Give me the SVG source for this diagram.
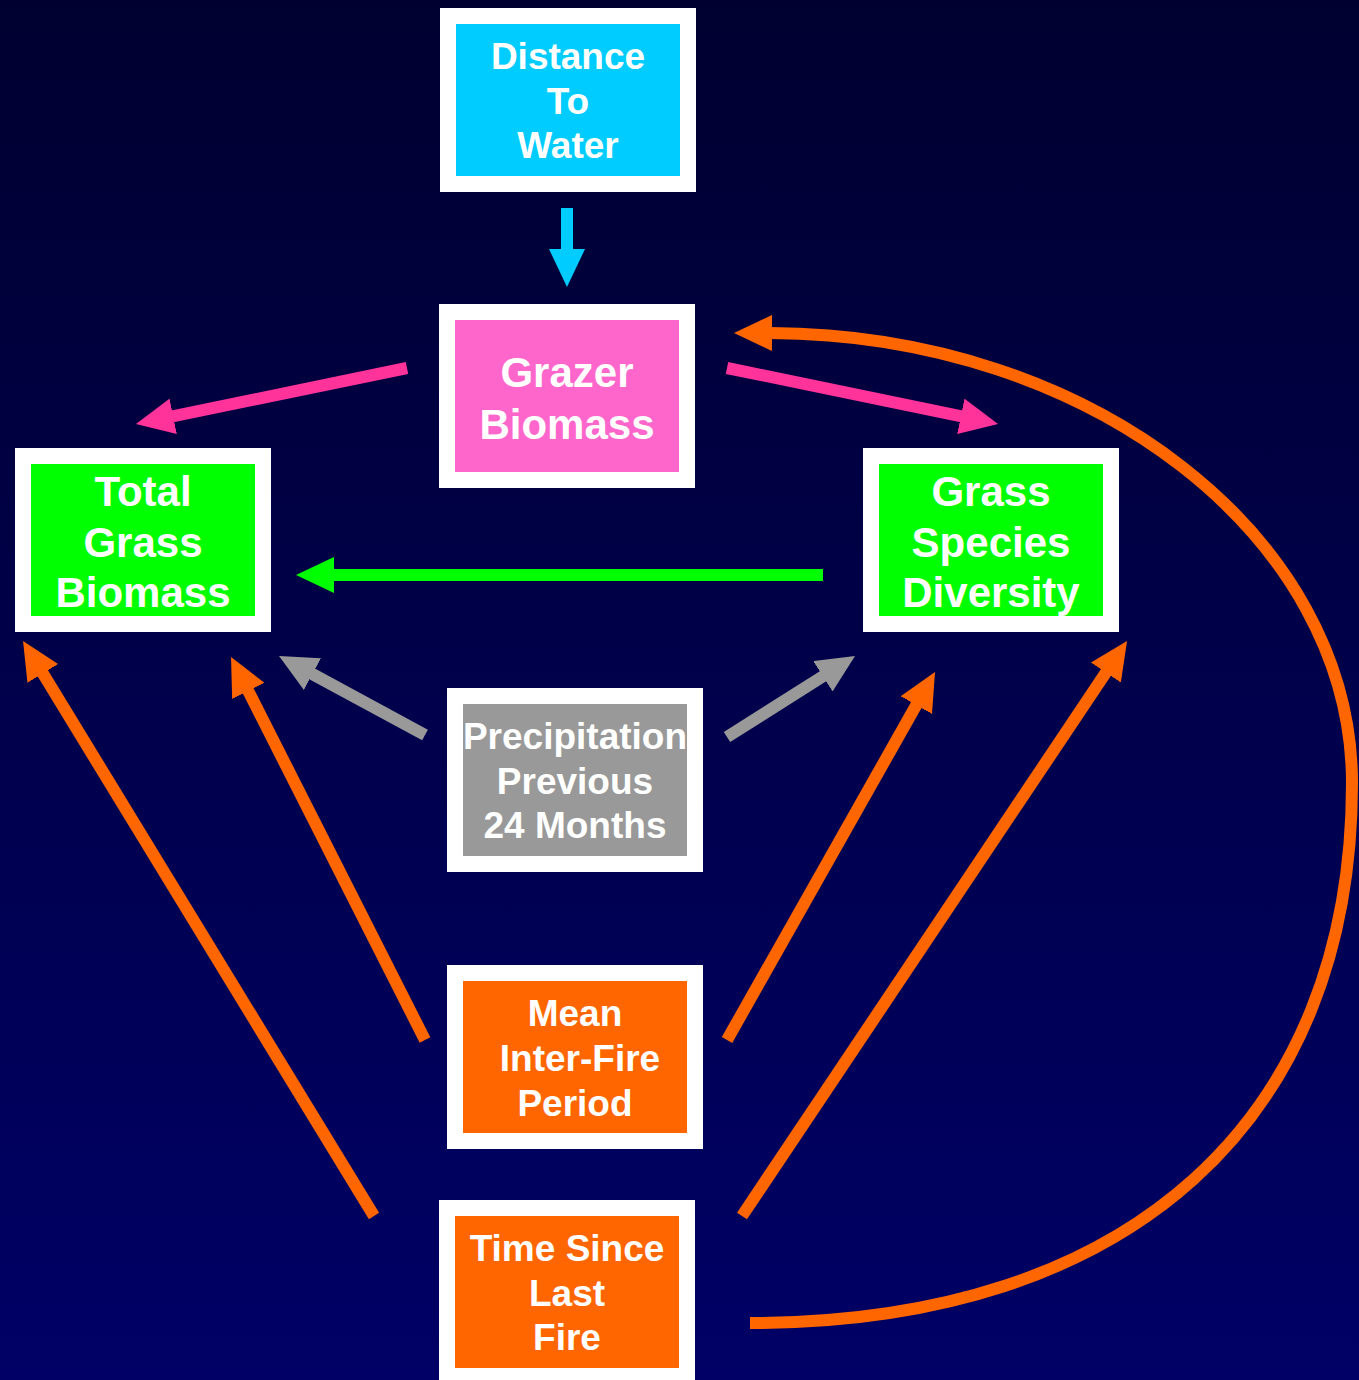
<svg xmlns="http://www.w3.org/2000/svg" width="1359" height="1380" viewBox="0 0 1359 1380">
<defs>
<linearGradient id="bg" x1="0" y1="0" x2="0" y2="1">
<stop offset="0" stop-color="#000030"/>
<stop offset="1" stop-color="#000066"/>
</linearGradient>
<marker id="hBlue" markerUnits="userSpaceOnUse" markerWidth="38" markerHeight="36" viewBox="0 0 38 36" refX="2" refY="18" orient="auto"><path d="M0,0 L38,18 L0,36 Z" fill="#00CCFF"/></marker>
<marker id="hPink" markerUnits="userSpaceOnUse" markerWidth="38" markerHeight="36" viewBox="0 0 38 36" refX="2" refY="18" orient="auto"><path d="M0,0 L38,18 L0,36 Z" fill="#FF3399"/></marker>
<marker id="hGreen" markerUnits="userSpaceOnUse" markerWidth="38" markerHeight="36" viewBox="0 0 38 36" refX="2" refY="18" orient="auto"><path d="M0,0 L38,18 L0,36 Z" fill="#00FF00"/></marker>
<marker id="hGray" markerUnits="userSpaceOnUse" markerWidth="38" markerHeight="36" viewBox="0 0 38 36" refX="2" refY="18" orient="auto"><path d="M0,0 L38,18 L0,36 Z" fill="#999999"/></marker>
<marker id="hOrange" markerUnits="userSpaceOnUse" markerWidth="38" markerHeight="36" viewBox="0 0 38 36" refX="2" refY="18" orient="auto"><path d="M0,0 L38,18 L0,36 Z" fill="#FF6600"/></marker>
</defs>
<style>
.frame{fill:#FFFFFF}
.t{font-family:"Liberation Sans",Arial,sans-serif;font-weight:bold;fill:#FFFFFF;text-anchor:middle}
.s37{font-size:37px}
.s42{font-size:42px}
.c{fill:none;stroke-width:12;stroke-linecap:butt}
</style>
<rect x="0" y="0" width="1359" height="1380" fill="url(#bg)"/>

<g id="connectors">
<line class="c" x1="567" y1="208" x2="567" y2="251" stroke="#00CCFF" marker-end="url(#hBlue)"/>
<line class="c" x1="407" y1="368" x2="171.2" y2="416.7" stroke="#FF3399" marker-end="url(#hPink)"/>
<line class="c" x1="727" y1="368" x2="962.8" y2="416.7" stroke="#FF3399" marker-end="url(#hPink)"/>
<line class="c" x1="823" y1="575" x2="332" y2="575" stroke="#00FF00" marker-end="url(#hGreen)"/>
<line class="c" x1="425" y1="735" x2="310.7" y2="673.1" stroke="#999999" marker-end="url(#hGray)"/>
<line class="c" x1="727" y1="737" x2="824.6" y2="675.2" stroke="#999999" marker-end="url(#hGray)"/>
<line class="c" x1="374" y1="1216" x2="41.8" y2="671.7" stroke="#FF6600" marker-end="url(#hOrange)"/>
<line class="c" x1="425" y1="1040" x2="247.3" y2="689.1" stroke="#FF6600" marker-end="url(#hOrange)"/>
<line class="c" x1="727" y1="1040" x2="917.3" y2="703.3" stroke="#FF6600" marker-end="url(#hOrange)"/>
<line class="c" x1="742" y1="1216" x2="1107" y2="670.9" stroke="#FF6600" marker-end="url(#hOrange)"/>
<path class="c" d="M750,1323 C1130,1323 1352,1120 1352,783 C1352,537 1091,334 770,333" stroke="#FF6600" marker-end="url(#hOrange)"/>
</g>

<g id="distance-to-water">
<rect class="frame" x="440" y="8" width="256" height="184"/>
<rect x="456" y="24" width="224" height="152" fill="#00CCFF"/>
<text class="t s37" x="568" y="69">Distance</text>
<text class="t s37" x="568" y="114">To</text>
<text class="t s37" x="568" y="158">Water</text>
</g>

<g id="grazer-biomass">
<rect class="frame" x="439" y="304" width="256" height="184"/>
<rect x="455" y="320" width="224" height="152" fill="#FF66CC"/>
<text class="t s42" x="567" y="387">Grazer</text>
<text class="t s42" x="567" y="439">Biomass</text>
</g>

<g id="total-grass-biomass">
<rect class="frame" x="15" y="448" width="256" height="184"/>
<rect x="31" y="464" width="224" height="152" fill="#00FF00"/>
<text class="t s42" x="143" y="506">Total</text>
<text class="t s42" x="143" y="557">Grass</text>
<text class="t s42" x="143" y="607">Biomass</text>
</g>

<g id="grass-species-diversity">
<rect class="frame" x="863" y="448" width="256" height="184"/>
<rect x="879" y="464" width="224" height="152" fill="#00FF00"/>
<text class="t s42" x="991" y="506">Grass</text>
<text class="t s42" x="991" y="557">Species</text>
<text class="t s42" x="991" y="607">Diversity</text>
</g>

<g id="precipitation">
<rect class="frame" x="447" y="688" width="256" height="184"/>
<rect x="463" y="704" width="224" height="152" fill="#999999"/>
<text class="t s37" x="575" y="749">Precipitation</text>
<text class="t s37" x="575" y="794">Previous</text>
<text class="t s37" x="575" y="838">24 Months</text>
</g>

<g id="mean-inter-fire-period">
<rect class="frame" x="447" y="965" width="256" height="184"/>
<rect x="463" y="981" width="224" height="152" fill="#FF6600"/>
<text class="t s37" x="575" y="1026">Mean</text>
<text class="t s37" x="580" y="1071">Inter-Fire</text>
<text class="t s37" x="575" y="1116">Period</text>
</g>

<g id="time-since-last-fire">
<rect class="frame" x="439" y="1200" width="256" height="184"/>
<rect x="455" y="1216" width="224" height="152" fill="#FF6600"/>
<text class="t s37" x="567" y="1261">Time Since</text>
<text class="t s37" x="567" y="1306">Last</text>
<text class="t s37" x="567" y="1350">Fire</text>
</g>
</svg>
